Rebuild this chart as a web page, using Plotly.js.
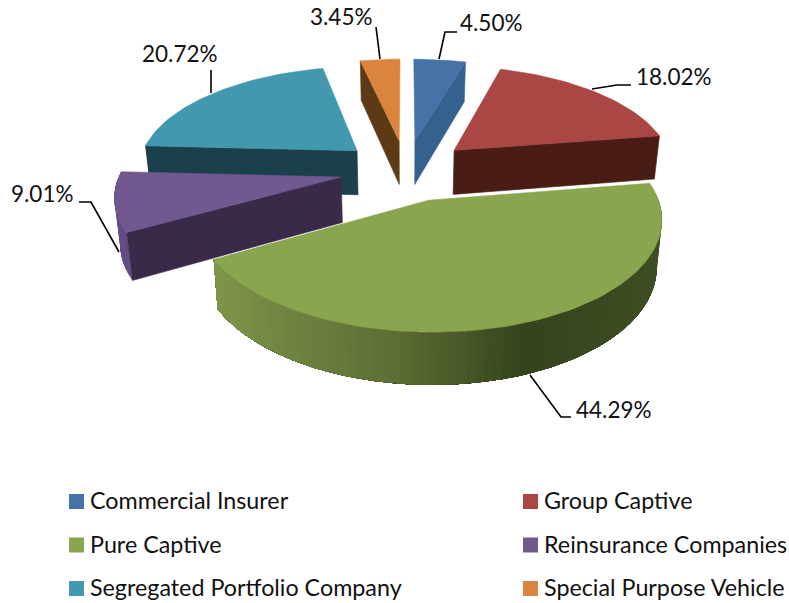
<!DOCTYPE html>
<html>
<head>
<meta charset="utf-8">
<script src="https://cdn.plot.ly/plotly-3.0.1.min.js"></script>
<style>html,body{margin:0;padding:0;background:#fff;overflow:hidden}#chart{width:789px;height:603px}</style>
</head>
<body>
<div id="chart"></div>
<script>
// ---- data ----
const categories = ["Commercial Insurer","Group Captive","Pure Captive","Reinsurance Companies","Segregated Portfolio Company","Special Purpose Vehicle"];
const shares = [4.50,18.02,44.29,9.01,20.72,3.45];
const topColors = ["#4572a7","#aa4643","#89a54e","#71588f","#4198af","#db843d"];
const cutColors = ["#35618f","#491d16","#3f4d24","#3a2a4a","#1b3f4b","#5e3a14"];
const rimColors = ["#35618f","#491d16","#5c6e34","#664c86","#1b3f4b","#5e3a14"];
const drawOrder = [5,0,4,1,2,3];

// ---- 3-D pie projection ----
const X0=406,Y0=170,R=220,B=102,K=0.15,PULL=0.3,DEPTH=45,SHRINK=0.98;
function proj(wx,wy,bottom){
  const p=1/(1-K*wy);
  let x=X0+R*wx*p,y=Y0+B*wy*p;
  if(bottom){x=X0+(x-X0)*SHRINK;y+=DEPTH*Math.pow(p,0.75);}
  return [x,y];
}
const total=shares.reduce((a,b)=>a+b,0);
let acc=0;
const slices=shares.map((v,i)=>{
  const a1=acc/total*2*Math.PI; acc+=v; const a2=acc/total*2*Math.PI;
  const m=(a1+a2)/2;
  return {i,a1,a2,cx:PULL*Math.sin(m),cy:-PULL*Math.cos(m)};
});
const rim=(s,a,b)=>proj(s.cx+Math.sin(a),s.cy-Math.cos(a),b);
const apex=(s,b)=>proj(s.cx,s.cy,b);
function poly(pts,color,name,width){
  const x=pts.map(p=>p[0]),y=pts.map(p=>p[1]);
  x.push(x[0]);y.push(y[0]);
  return {type:"scatter",mode:"lines",x,y,fill:"toself",fillcolor:color,
    line:{color,width:width===undefined?0.6:width},name,hoverinfo:"name",showlegend:false};
}
const greenStops=[[215,[125,150,72]],[300,[110,130,64]],[400,[92,110,52]],[530,[53,67,29]],[665,[64,78,36]]];
function greenAt(x){
  for(let j=0;j<greenStops.length-1;j++){
    const [xa,ca]=greenStops[j],[xb,cb]=greenStops[j+1];
    if(x<=xb){const t=Math.max(0,(x-xa)/(xb-xa));
      return "rgb("+ca.map((c,n)=>Math.round(c+(cb[n]-c)*t)).join(",")+")";}
  }
  const l=greenStops[greenStops.length-1][1];return "rgb("+l.join(",")+")";
}
const traces=[];
const LO=85*Math.PI/180,HI=275*Math.PI/180,STEP=2*Math.PI/180;
drawOrder.forEach(idx=>{
  const s=slices[idx],name=categories[idx];
  // outer wall, front half only; each band reaches to the low-angle end and overlaps the previous one
  const a=Math.max(s.a1,LO),b=Math.min(s.a2,HI);
  if(b>a){
    const n=Math.ceil((b-a)/STEP);
    for(let j=n-1;j>=0;j--){
      const top=[],bot=[];
      for(let q=0;q<=n-j;q++){
        const ang=b-(b-a)*q/n;
        top.push(rim(s,ang,false));bot.unshift(rim(s,ang,true));
      }
      // band j paints from the left end (angle b) toward the right; draw the longest first
      const endPt=rim(s,b-(b-a)*(n-j)/n,false);
      traces.push({order:n-j,pts:top.concat(bot),col:idx===2?greenAt(endPt[0]):rimColors[idx],name});
    }
    // longest band first, so shorter ones stack on top
    const bands=traces.splice(traces.length-n,n).sort((p,q)=>q.order-p.order);
    bands.forEach(d=>traces.push(poly(d.pts,d.col,d.name,0)));
  }
  // radial cut walls that face the viewer
  if(s.a2<=Math.PI) traces.push(poly([apex(s,false),rim(s,s.a2,false),rim(s,s.a2,true),apex(s,true)],cutColors[idx],name));
  if(s.a1>=Math.PI) traces.push(poly([apex(s,false),rim(s,s.a1,false),rim(s,s.a1,true),apex(s,true)],cutColors[idx],name));
  // top face
  const top=[apex(s,false)];
  const n=Math.max(4,Math.ceil((s.a2-s.a1)/STEP));
  for(let j=0;j<=n;j++) top.push(rim(s,s.a1+(s.a2-s.a1)*j/n,false));
  traces.push(poly(top,topColors[idx],name));
});

// ---- labels, leaders, legend ----
const FONT="Lato, 'Open Sans', sans-serif";
const labelPos=[[458,22,"left"],[634,76,"left"],[574,409,"left"],[76,193,"right"],[180,53,"center"],[341,16,"center"]];
const leaders=["M439 59L445 32L457 32","M592 89L617 85L631 85","M530 375L561 417L571 417","M119 252L91 202L79 202","M211 93L211 70","M380 59L376 27"];
const legendCells=[[69,501.5],[523,501.5],[69,545],[523,545],[69,588.5],[523,588.5]];
const annotations=[],shapes=[];
shares.forEach((v,i)=>{
  const [x,y,al]=labelPos[i];
  annotations.push({x,y,xref:"x",yref:"y",text:v.toFixed(2)+"%",showarrow:false,xanchor:al,yanchor:"middle",
    font:{family:FONT,size:22.5,color:"#111"}});
  shapes.push({type:"path",path:leaders[i],xref:"x",yref:"y",line:{color:"#000",width:1.6},layer:"above"});
  const [lx,ly]=legendCells[i];
  shapes.push({type:"rect",xref:"x",yref:"y",x0:lx,x1:lx+15,y0:ly-7.5,y1:ly+7.5,fillcolor:topColors[i],line:{width:0}});
  annotations.push({x:lx+19,y:ly-1.5,xref:"x",yref:"y",text:categories[i],showarrow:false,xanchor:"left",yanchor:"middle",
    font:{family:FONT,size:23.3,color:"#111"}});
});

Plotly.newPlot("chart",traces,{
  width:789,height:603,margin:{l:0,r:0,t:0,b:0},paper_bgcolor:"#fff",plot_bgcolor:"#fff",showlegend:false,
  xaxis:{range:[0,789],visible:false,fixedrange:true},
  yaxis:{range:[603,0],visible:false,fixedrange:true},
  annotations,shapes
},{displayModeBar:false});
</script>
</body>
</html>
